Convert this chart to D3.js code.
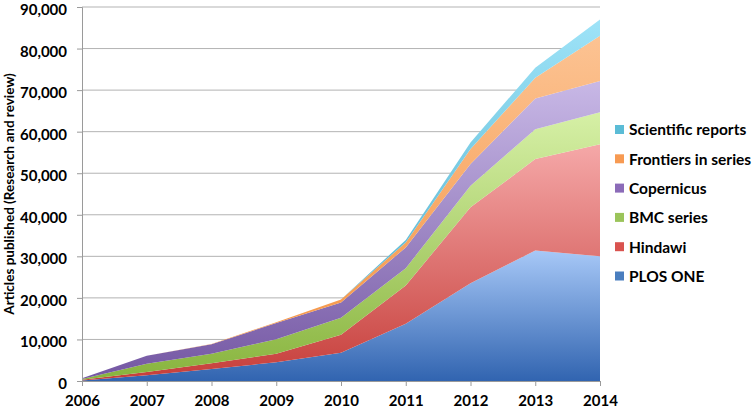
<!DOCTYPE html>
<html>
<head>
<meta charset="utf-8">
<script src="https://cdn.jsdelivr.net/npm/d3@7"></script>
<style>
  body { margin: 0; background: #fff; }
  text { font-family: Lato, "Open Sans", sans-serif; font-weight: bold; fill: #000; }
</style>
</head>
<body>
<div id="chart"></div>
<script>
// years on the x axis
const years = [2006, 2007, 2008, 2009, 2010, 2011, 2012, 2013, 2014];

// articles per publisher (stack order bottom -> top)
const plosOne = [140, 1400, 2900, 4500, 6800, 13800, 23500, 31400, 30000];
const hindawi = [150, 750, 1400, 2050, 4300, 9200, 18300, 22000, 27000];
const bmcSeries = [200, 2000, 2250, 3500, 4100, 4150, 5200, 7200, 7700];
const copernicus = [160, 1900, 2300, 3900, 3700, 5000, 5200, 7400, 7500];
const frontiers = [0, 0, 50, 200, 700, 1200, 3600, 5000, 10900];
const sciReports = [0, 0, 0, 0, 0, 600, 1600, 2400, 3900];

const seriesNames = ["PLOS ONE", "Hindawi", "BMC series", "Copernicus", "Frontiers in series", "Scientific reports"];
const seriesValues = [plosOne, hindawi, bmcSeries, copernicus, frontiers, sciReports];
// gradient colours: light (top) -> dark (bottom)
const lightColors = ["#a7c8f7", "#f5a8a8", "#d6f0a6", "#c8b8e6", "#fcc393", "#9ee3f8"];
const darkColors = ["#3164b0", "#c63e3a", "#88b43e", "#7457a3", "#f4913e", "#45a9c6"];
const legendColors = ["#4a7ebf", "#d9534f", "#9bc45a", "#8b6bb8", "#f79a52", "#5bbcd6"];

const yTicks = [0, 10000, 20000, 30000, 40000, 50000, 60000, 70000, 80000, 90000];

const width = 756, height = 413;
const margin = { top: 7, right: 156, bottom: 32, left: 82 };

const svg = d3.select("#chart").append("svg")
  .attr("width", width)
  .attr("height", height);

const x = d3.scaleLinear()
  .domain([2006, 2014])
  .range([margin.left, width - margin.right]);

const y = d3.scaleLinear()
  .domain([0, 90000])
  .range([height - margin.bottom, margin.top]);

//table for the stack
const table = years.map((yr, i) => {
  const row = { year: yr };
  seriesNames.forEach((name, j) => { row[name] = seriesValues[j][i]; });
  return row;
});

const stacked = d3.stack().keys(seriesNames)(table);

//gradients
const defs = svg.append("defs");
seriesNames.forEach((name, i) => {
  const g = defs.append("linearGradient")
    .attr("id", "grad" + i)
    .attr("x1", 0).attr("y1", 0).attr("x2", 0).attr("y2", 1);
  g.append("stop").attr("offset", "0%").attr("stop-color", lightColors[i]);
  g.append("stop").attr("offset", "100%").attr("stop-color", darkColors[i]);
});

//gridlines
svg.append("g")
  .selectAll("line")
  .data(yTicks.slice(1))
  .join("line")
  .attr("x1", x(2006)).attr("x2", x(2014))
  .attr("y1", d => y(d)).attr("y2", d => y(d))
  .attr("stroke", "#b3b3b3")
  .attr("stroke-width", 1);

//areas
const area = d3.area()
  .x(d => x(d.data.year))
  .y0(d => y(d[0]))
  .y1(d => y(d[1]));

svg.append("g")
  .selectAll("path")
  .data(stacked)
  .join("path")
  .attr("d", area)
  .attr("fill", (d, i) => `url(#grad${i})`);

//y axis
const yAxis = svg.append("g")
  .attr("transform", `translate(${margin.left},0)`)
  .call(d3.axisLeft(y).tickValues(yTicks).tickFormat(d3.format(",")).tickSize(5).tickPadding(10));
yAxis.select(".domain").attr("stroke", "#9a9a9a");
yAxis.selectAll(".tick line").attr("stroke", "#9a9a9a");
yAxis.selectAll("text")
  .attr("dy", "0.5em")
  .style("font-size", "15px")
  .attr("font-family", null).attr("font-size", null);

//x axis
const xAxis = svg.append("g")
  .attr("transform", `translate(0,${height - margin.bottom})`)
  .call(d3.axisBottom(x).tickValues(years).tickFormat(d3.format("d")).tickSize(5).tickPadding(9));
xAxis.select(".domain").attr("stroke", "#9a9a9a");
xAxis.selectAll(".tick line").attr("stroke", "#9a9a9a");
xAxis.selectAll("text").style("font-size", "15px").attr("font-family", null).attr("font-size", null);

//y axis title
svg.append("text")
  .attr("transform", `translate(14,${(y(0) + y(90000)) / 2}) rotate(-90)`)
  .attr("text-anchor", "middle")
  .style("font-size", "13.5px")
  .text("Articles published (Research and review)");

//legend (top entry is the top of the stack)
const legendOrder = seriesNames.map((n, i) => i).reverse();
const legend = svg.append("g")
  .selectAll("g")
  .data(legendOrder)
  .join("g")
  .attr("transform", (d, k) => `translate(615,${130 + k * 29.3})`);

legend.append("rect")
  .attr("x", 0).attr("y", -5)
  .attr("width", 9).attr("height", 9)
  .attr("fill", d => legendColors[d]);

legend.append("text")
  .attr("x", 14)
  .attr("dy", "0.35em")
  .style("font-size", "15.5px")
  .text(d => seriesNames[d]);
</script>
</body>
</html>
